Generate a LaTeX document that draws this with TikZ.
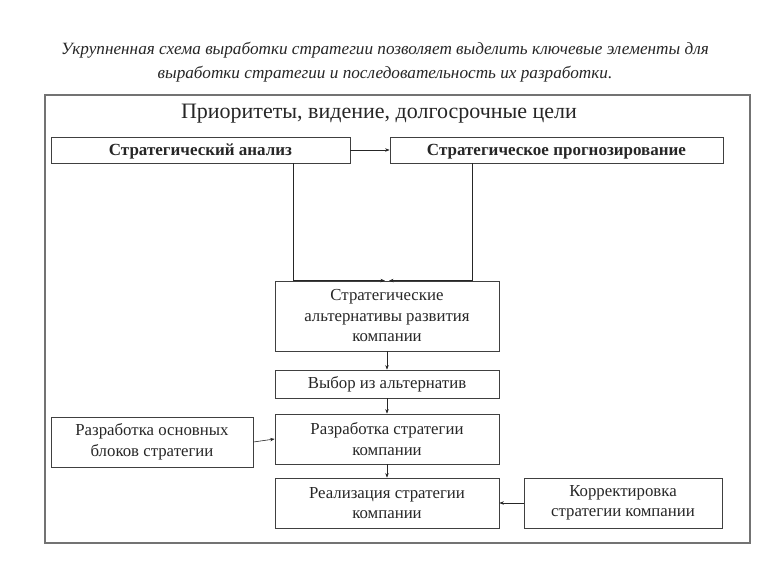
\documentclass[tikz,border=0pt]{standalone}
\usepackage{fontspec}
\setmainfont{Liberation Serif}
\usetikzlibrary{arrows.meta}
\begin{document}
\begin{tikzpicture}[x=1pt,y=-1pt,
  box/.style={draw=black!75, line width=0.8pt, inner sep=0pt, align=center, font=\fontsize{16.8}{20.5}\selectfont, text=black!85},
  bbox/.style={box, font=\fontsize{17}{19}\bfseries\selectfont, text height=11.5pt, text depth=1.5pt},
  arr/.style={draw=black!85, line width=0.6pt, -{Stealth[length=4.5pt,width=3.5pt]}},
  conn/.style={draw=black!70, line width=0.6pt}]
\useasboundingbox (0,0) rectangle (768,576);
\node[font=\fontsize{17.2}{24}\itshape\selectfont, align=center, text=black!85] (title) at (385,62)
  {Укрупненная схема выработки стратегии позволяет выделить ключевые элементы для\\
   выработки стратегии и последовательность их разработки.};
\draw[draw=black!55, line width=2pt] (45,95) rectangle (750,543);
\node[font=\fontsize{22}{24}\selectfont, text=black!85] (head) at (379,114) {Приоритеты, видение, долгосрочные цели};
\node[bbox, minimum width=299pt, minimum height=26pt] (A) at (200.5,150) {Стратегический анализ};
\node[bbox, minimum width=333pt, minimum height=26pt] (B) at (556.5,150) {Стратегическое прогнозирование};
\node[box, minimum width=224pt, minimum height=70pt] (alt) at (387,316) {Стратегические\\альтернативы развития\\компании};
\node[box, minimum width=224pt, minimum height=28pt] (choice) at (387,384) {Выбор из альтернатив};
\node[box, minimum width=224pt, minimum height=50pt] (dev) at (387,439) {Разработка стратегии\\компании};
\node[box, minimum width=202pt, minimum height=50pt] (blocks) at (152,442) {Разработка основных\\блоков стратегии};
\node[box, minimum width=224pt, minimum height=50pt] (real) at (387,503) {Реализация стратегии\\компании};
\node[box, minimum width=198pt, minimum height=50pt] (korr) at (623,503) {Корректировка\\стратегии компании};
\coordinate (ax) at (293,0);
\coordinate (bx) at (472,0);
\coordinate (mL) at (385,0);
\coordinate (mR) at (389,0);
\draw[arr] (A) -- (B);
\draw[arr] (A.south -| ax) |- (alt.north -| mL);
\draw[arr] (B.south -| bx) |- (alt.north -| mR);
\draw[arr] (alt) -- (choice);
\draw[arr] (choice) -- (dev);
\draw[arr] (dev) -- (real);
\draw[arr] (blocks.east) -- (dev.west);
\draw[arr] (korr) -- (real);
\end{tikzpicture}
\end{document}
